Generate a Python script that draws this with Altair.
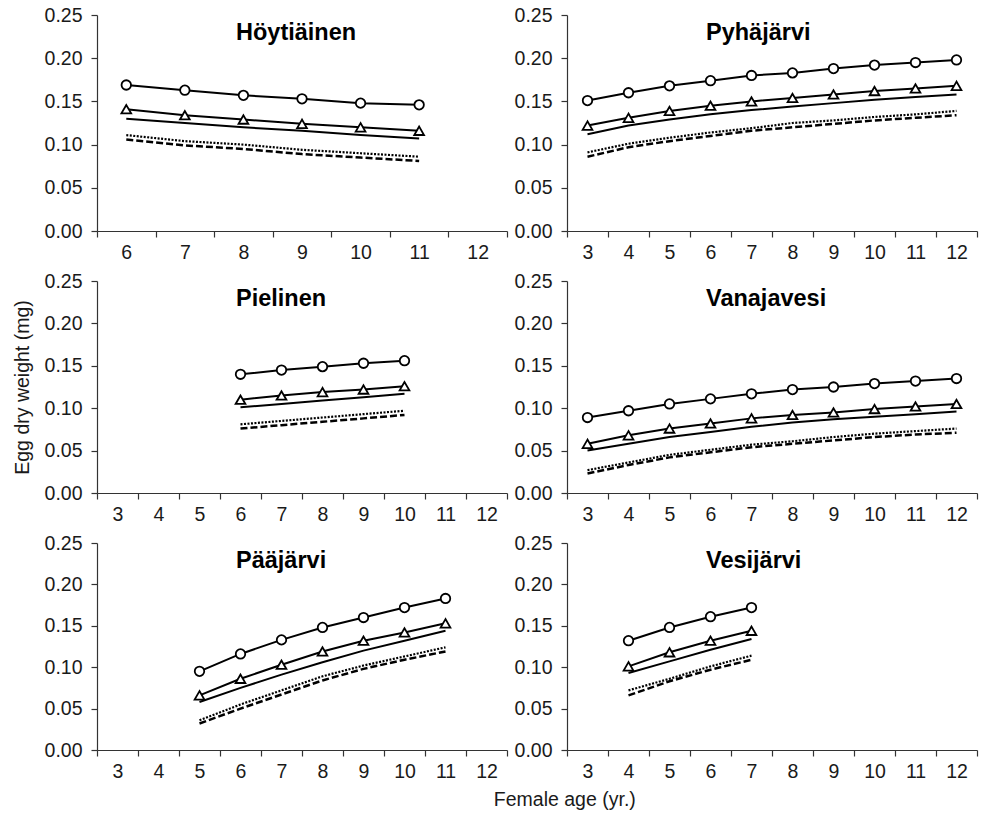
import altair as alt
import pandas as pd

FONT = "Liberation Sans"

lakes = ["Höytiäinen", "Pyhäjärvi", "Pielinen", "Vanajavesi", "Pääjärvi", "Vesijärvi"]

# x-axis categories of each panel
cats_hoyt = [6, 7, 8, 9, 10, 11, 12]
cats_all = [3, 4, 5, 6, 7, 8, 9, 10, 11, 12]

# ages with data
ages_hoyt = [6, 7, 8, 9, 10, 11]
ages_pyha = [3, 4, 5, 6, 7, 8, 9, 10, 11, 12]
ages_piel = [6, 7, 8, 9, 10]
ages_vana = [3, 4, 5, 6, 7, 8, 9, 10, 11, 12]
ages_paaj = [5, 6, 7, 8, 9, 10, 11]
ages_vesi = [4, 5, 6, 7]

# Höytiäinen
hoyt_circle = [0.169, 0.163, 0.157, 0.153, 0.148, 0.146]
hoyt_triangle = [0.141, 0.134, 0.129, 0.124, 0.120, 0.116]
hoyt_solid = [0.130, 0.125, 0.120, 0.116, 0.111, 0.107]
hoyt_dotted = [0.111, 0.104, 0.100, 0.094, 0.090, 0.086]
hoyt_dashed = [0.106, 0.099, 0.095, 0.089, 0.085, 0.081]

# Pyhäjärvi
pyha_circle = [0.151, 0.160, 0.168, 0.174, 0.180, 0.183, 0.188, 0.192, 0.195, 0.198]
pyha_triangle = [0.122, 0.131, 0.139, 0.145, 0.150, 0.154, 0.158, 0.162, 0.165, 0.168]
pyha_solid = [0.112, 0.122, 0.129, 0.135, 0.140, 0.144, 0.148, 0.152, 0.155, 0.158]
pyha_dotted = [0.091, 0.101, 0.108, 0.114, 0.119, 0.125, 0.128, 0.132, 0.135, 0.139]
pyha_dashed = [0.086, 0.097, 0.104, 0.110, 0.116, 0.120, 0.124, 0.128, 0.131, 0.134]

# Pielinen
piel_circle = [0.140, 0.145, 0.149, 0.153, 0.156]
piel_triangle = [0.110, 0.115, 0.119, 0.122, 0.126]
piel_solid = [0.101, 0.105, 0.109, 0.113, 0.117]
piel_dotted = [0.081, 0.085, 0.089, 0.093, 0.097]
piel_dashed = [0.076, 0.080, 0.084, 0.088, 0.092]

# Vanajavesi
vana_circle = [0.089, 0.097, 0.105, 0.111, 0.117, 0.122, 0.125, 0.129, 0.132, 0.135]
vana_triangle = [0.058, 0.068, 0.076, 0.082, 0.088, 0.092, 0.095, 0.099, 0.102, 0.105]
vana_solid = [0.050, 0.058, 0.066, 0.072, 0.078, 0.083, 0.087, 0.090, 0.093, 0.096]
vana_dotted = [0.027, 0.036, 0.045, 0.051, 0.057, 0.061, 0.066, 0.070, 0.073, 0.076]
vana_dashed = [0.023, 0.033, 0.042, 0.048, 0.054, 0.058, 0.062, 0.066, 0.069, 0.071]

# Pääjärvi
paaj_circle = [0.095, 0.116, 0.133, 0.148, 0.160, 0.172, 0.183]
paaj_triangle = [0.066, 0.086, 0.103, 0.119, 0.132, 0.142, 0.153]
paaj_solid = [0.058, 0.075, 0.091, 0.106, 0.120, 0.132, 0.144]
paaj_dotted = [0.036, 0.055, 0.072, 0.089, 0.102, 0.113, 0.124]
paaj_dashed = [0.032, 0.050, 0.067, 0.084, 0.098, 0.109, 0.119]

# Vesijärvi
vesi_circle = [0.132, 0.148, 0.161, 0.172]
vesi_triangle = [0.101, 0.118, 0.132, 0.144]
vesi_solid = [0.093, 0.107, 0.121, 0.134]
vesi_dotted = [0.072, 0.086, 0.101, 0.114]
vesi_dashed = [0.066, 0.083, 0.097, 0.109]

panels = [
    ("Höytiäinen", cats_hoyt, ages_hoyt, [hoyt_circle, hoyt_triangle, hoyt_solid, hoyt_dotted, hoyt_dashed]),
    ("Pyhäjärvi", cats_all, ages_pyha, [pyha_circle, pyha_triangle, pyha_solid, pyha_dotted, pyha_dashed]),
    ("Pielinen", cats_all, ages_piel, [piel_circle, piel_triangle, piel_solid, piel_dotted, piel_dashed]),
    ("Vanajavesi", cats_all, ages_vana, [vana_circle, vana_triangle, vana_solid, vana_dotted, vana_dashed]),
    ("Pääjärvi", cats_all, ages_paaj, [paaj_circle, paaj_triangle, paaj_solid, paaj_dotted, paaj_dashed]),
    ("Vesijärvi", cats_all, ages_vesi, [vesi_circle, vesi_triangle, vesi_solid, vesi_dotted, vesi_dashed]),
]
series_names = ["circle", "triangle", "solid", "dotted", "dashed"]
row_heights = [216, 212, 207]
PW = 410


def make_panel(i, lake, cats, ages, series):
    rows = []
    for name, vals in zip(series_names, series):
        for a, v in zip(ages, vals):
            rows.append({"age": a, "w": v, "s": name})
    df = pd.DataFrame(rows)
    h = row_heights[i // 2]
    ytitle = "Egg dry weight (mg)" if i == 2 else None
    yaxis_kwargs = dict(values=[0, 0.05, 0.10, 0.15, 0.20, 0.25], format=".2f",
                        labelPadding=9, tickSize=6, grid=False)
    if ytitle:
        yaxis = alt.Axis(title=ytitle, titlePadding=12, **yaxis_kwargs)
    else:
        yaxis = alt.Axis(title=None, **yaxis_kwargs)
    x = alt.X("age:O",
              scale=alt.Scale(type="band", domain=cats, paddingInner=0, paddingOuter=0),
              axis=alt.Axis(title=None, tickBand="extent", labelAngle=0, tickSize=6,
                            labelPadding=6, grid=False),
              bandPosition=0.5)
    y = alt.Y("w:Q", scale=alt.Scale(domain=[0, 0.25], nice=False, zero=True), axis=yaxis)
    base = alt.Chart(df).encode(x=x, y=y)

    def sel(name):
        return base.transform_filter(alt.datum.s == name)

    layers = [
        sel("dashed").mark_line(color="black", strokeWidth=2.5, strokeDash=[7, 3]),
        sel("dotted").mark_line(color="black", strokeWidth=2.2, strokeDash=[2, 1.5]),
        sel("solid").mark_line(color="black", strokeWidth=2),
        sel("triangle").mark_line(color="black", strokeWidth=2),
        sel("circle").mark_line(color="black", strokeWidth=2),
        sel("triangle").mark_point(shape="triangle-up", filled=True, fill="white", stroke="black",
                                   strokeWidth=1.8, size=95, opacity=1),
        sel("circle").mark_point(shape="circle", filled=True, fill="white", stroke="black",
                                 strokeWidth=1.8, size=90, opacity=1),
    ]
    title = alt.Chart(pd.DataFrame({"t": [lake]})).mark_text(
        align="left", baseline="alphabetic", fontSize=23.5, fontWeight="bold", font=FONT, color="black"
    ).encode(text="t:N", x=alt.value(139), y=alt.value(25))
    return alt.layer(*layers, title).properties(width=PW, height=h)


charts = [make_panel(i, *p) for i, p in enumerate(panels)]

chart = alt.concat(*charts, columns=2, spacing={"row": 9, "column": 6}).properties(
    title=alt.TitleParams("Female age (yr.)", orient="bottom", anchor="middle", fontSize=19.5,
                          fontWeight="normal", font=FONT, color="#1a1a1a", offset=10, dx=70),
    padding={"left": 12, "top": 5, "right": 1, "bottom": 1},
).configure_view(stroke=None).configure_axis(
    labelFont=FONT, labelFontSize=19.5, labelColor="#1a1a1a",
    titleFont=FONT, titleFontSize=19.5, titleFontWeight="normal", titleColor="#1a1a1a",
    domainColor="#333333", domainWidth=1.2, tickColor="#333333", tickWidth=1.2,
)

chart.save("out.html", embed_options={"renderer": "svg", "actions": False})
